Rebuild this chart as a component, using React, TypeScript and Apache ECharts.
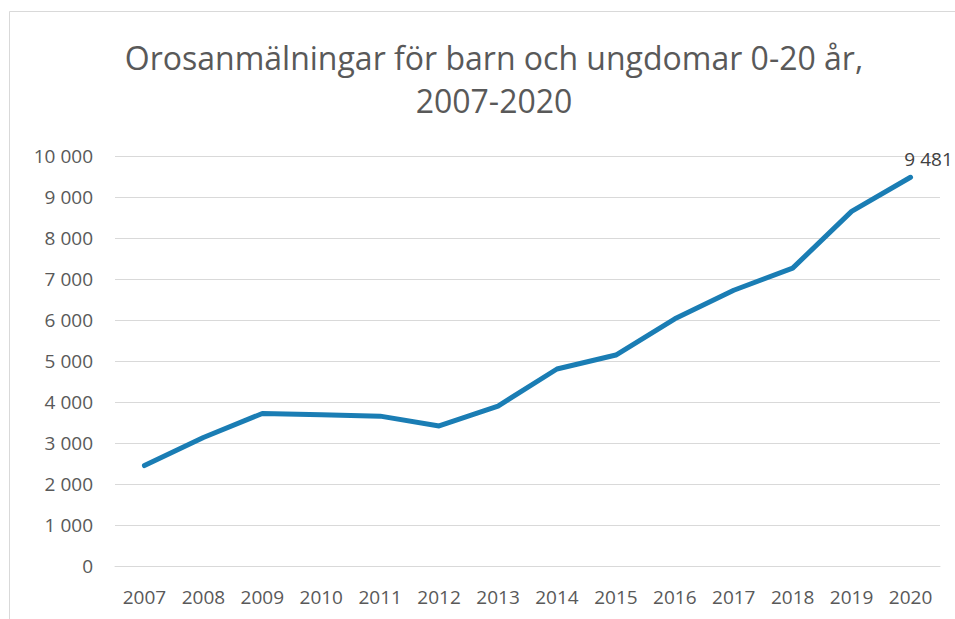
import React, { useEffect, useRef } from "react";
import * as echarts from "echarts";

const years = ["2007", "2008", "2009", "2010", "2011", "2012", "2013", "2014", "2015", "2016", "2017", "2018", "2019", "2020"];
const reports = [2450, 3135, 3720, 3690, 3655, 3415, 3900, 4805, 5145, 6030, 6725, 7265, 8650, 9481];
const titleText = "Orosanmälningar för barn och ungdomar 0-20 år,\n2007-2020";

const fmt = (v: number) => String(Math.round(v)).replace(/\B(?=(\d{3})+(?!\d))/g, " ");

export default function App() {
  const ref = useRef<HTMLDivElement>(null);
  useEffect(() => {
    if (!ref.current) return;
    const chart = echarts.init(ref.current, null, { renderer: "svg" });
    const last = reports.length - 1;
    chart.setOption({
      animation: false,
      backgroundColor: "#ffffff",
      title: {
        text: titleText,
        left: 489,
        top: 31,
        textAlign: "center",
        textStyle: {
          fontFamily: "Open Sans",
          fontSize: 32,
          fontWeight: "normal",
          color: "#595959",
          lineHeight: 43,
        },
      },
      graphic: [
        {
          type: "rect",
          shape: { x: 9.5, y: 11.5, width: 1000, height: 700 },
          style: { fill: "none", stroke: "#d9d9d9", lineWidth: 1 },
          silent: true,
        },
      ],
      grid: { left: 115, right: 15, top: 156, bottom: 53, containLabel: false },
      xAxis: {
        type: "category",
        data: years,
        boundaryGap: true,
        axisLine: { show: true, lineStyle: { color: "#d9d9d9", width: 1 } },
        axisTick: { show: false },
        axisLabel: { color: "#595959", fontSize: 19, fontFamily: "Open Sans", margin: 21 },
      },
      yAxis: {
        type: "value",
        min: 0,
        max: 10000,
        interval: 1000,
        axisLine: { show: false },
        axisTick: { show: false },
        splitLine: { lineStyle: { color: "#d9d9d9", width: 1 } },
        axisLabel: {
          color: "#595959",
          fontSize: 19,
          fontFamily: "Open Sans",
          margin: 22,
          formatter: (v: number) => fmt(v),
        },
      },
      series: [
        {
          type: "line",
          clip: false,
          data: reports.map((v, i) =>
            i === last
              ? {
                  value: v,
                  label: {
                    show: true,
                    position: "top",
                    offset: [18, -4],
                    color: "#404040",
                    fontSize: 19,
                    fontFamily: "Open Sans",
                    formatter: (p: any) => fmt(p.value),
                  },
                }
              : v
          ),
          showSymbol: true,
          symbol: "circle",
          symbolSize: 0.1,
          lineStyle: { color: "#1a7db4", width: 5, cap: "round", join: "round" },
          itemStyle: { color: "rgba(0,0,0,0)", borderWidth: 0 },
        },
      ],
    });
    return () => chart.dispose();
  }, []);
  return (
    <div style={{ position: "fixed", left: 0, top: 0, width: 955, height: 619, overflow: "hidden" }}>
      <div ref={ref} style={{ width: 955, height: 619 }} />
    </div>
  );
}
